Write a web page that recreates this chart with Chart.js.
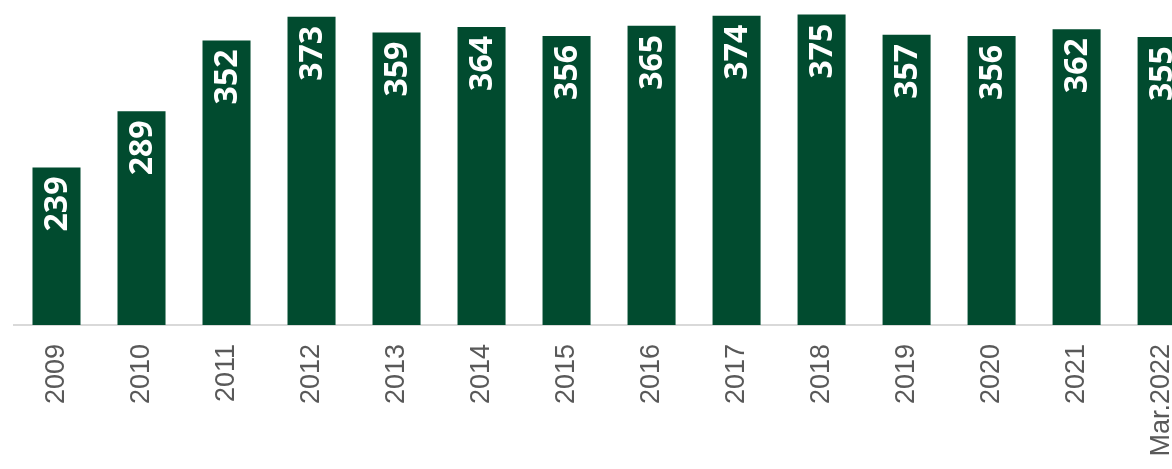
<!DOCTYPE html>
<html>
<head>
<meta charset="utf-8">
<script src="https://cdn.jsdelivr.net/npm/chart.js@4"></script>
<style>
  html, body { margin: 0; padding: 0; background: #fff; overflow: hidden; }
  #wrap { width: 1213px; height: 469px; }
</style>
</head>
<body>
<div id="wrap"><canvas id="chart" width="1213" height="469"></canvas></div>
<script>
const years = ['2009', '2010', '2011', '2012', '2013', '2014', '2015', '2016', '2017', '2018', '2019', '2020', '2021', 'Mar.2022'];
const values = [239, 289, 352, 373, 359, 364, 356, 365, 374, 375, 357, 356, 362, 355];
const barColor = '#014b2f';

// etiquetas brancas dentro das barras, giradas
const barLabels = {
  id: 'barLabels',
  afterDatasetsDraw(chart) {
    const ctx = chart.ctx;
    const meta = chart.getDatasetMeta(0);
    ctx.save();
    ctx.fillStyle = '#ffffff';
    ctx.font = 'bold 32px "Open Sans"';
    ctx.textAlign = 'right';
    ctx.textBaseline = 'middle';
    meta.data.forEach((bar, i) => {
      ctx.save();
      ctx.translate(bar.x + 1, bar.y + 9);
      ctx.rotate(-Math.PI / 2);
      ctx.fillText(String(values[i]), 0, 0);
      ctx.restore();
    });
    ctx.restore();
  }
};

new Chart(document.getElementById('chart').getContext('2d'), {
  type: 'bar',
  data: {
    labels: years,
    datasets: [{
      data: values,
      backgroundColor: barColor,
      borderWidth: 0,
      categoryPercentage: 1,
      barPercentage: 0.565
    }]
  },
  options: {
    responsive: false,
    animation: false,
    layout: { padding: { left: 14, right: 0, top: 0, bottom: 0 } },
    plugins: {
      legend: { display: false },
      tooltip: { enabled: false }
    },
    scales: {
      x: {
        grid: { display: false, drawTicks: false },
        border: { display: true, color: '#d9d9d9', width: 2 },
        ticks: {
          autoSkip: false,
          minRotation: 90,
          maxRotation: 90,
          padding: 19,
          color: '#595959',
          font: { family: '"Liberation Sans", Arial, sans-serif', size: 27 }
        },
        afterFit(scale) { scale.height = 144; }
      },
      y: {
        display: false,
        min: 99,
        max: 388
      }
    }
  },
  plugins: [barLabels]
});
</script>
</body>
</html>
